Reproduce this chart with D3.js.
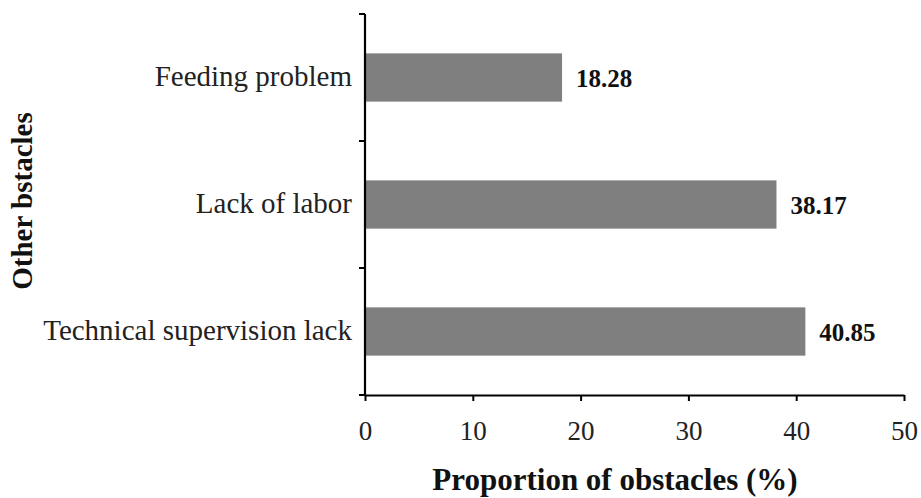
<!DOCTYPE html>
<html><head><meta charset="utf-8">
<script src="https://cdn.jsdelivr.net/npm/d3@7"></script>
<style>body{margin:0;background:#fff;} svg{display:block;}</style>
</head><body>
<script>
const categories = ["Feeding problem", "Lack of labor", "Technical supervision lack"];
const values = [18.28, 38.17, 40.85];
const xTicks = [0, 10, 20, 30, 40, 50];
const xTitle = "Proportion of obstacles (%)";
const yTitle = "Other bstacles";

const W = 921, H = 498;
const svg = d3.select("body").append("svg").attr("width", W).attr("height", H);
const font = "'Liberation Serif', 'Times New Roman', serif";

const x = d3.scaleLinear().domain([0, 50]).range([365, 904]);
const y = d3.scaleBand().domain(categories).range([14, 395]).paddingInner(0.62).paddingOuter(0.31);

// bars
svg.selectAll("rect.bar").data(categories).enter().append("rect")
  .attr("x", x(0)).attr("y", d => y(d))
  .attr("width", (d, i) => x(values[i]) - x(0))
  .attr("height", y.bandwidth())
  .attr("fill", "#7f7f7f");

// value labels
svg.selectAll("text.val").data(categories).enter().append("text")
  .attr("x", (d, i) => x(values[i]) + 14)
  .attr("y", d => y(d) + y.bandwidth() / 2 + 9)
  .attr("font-family", font).attr("font-weight", "bold").attr("font-size", 25)
  .attr("fill", "#111")
  .text((d, i) => values[i].toFixed(2));

// y axis line with ticks at band boundaries
const bounds = [0, 1, 2, 3].map(k => 14 + k * (381 / 3));
svg.append("line").attr("x1", x(0)).attr("x2", x(0)).attr("y1", 14).attr("y2", 395)
  .attr("stroke", "#000").attr("stroke-width", 2.2);
svg.selectAll("line.yt").data(bounds).enter().append("line")
  .attr("x1", x(0) - 6).attr("x2", x(0)).attr("y1", d => d).attr("y2", d => d)
  .attr("stroke", "#000").attr("stroke-width", 2);

// category labels
svg.selectAll("text.cat").data(categories).enter().append("text")
  .attr("x", 352).attr("y", d => y(d) + y.bandwidth() / 2 + 8)
  .attr("text-anchor", "end")
  .attr("font-family", font).attr("font-size", 29).attr("fill", "#222")
  .text(d => d);

// x axis
const xAxis = d3.axisBottom(x).tickValues(xTicks).tickSize(6).tickSizeOuter(0).tickPadding(20);
const gx = svg.append("g").attr("transform", `translate(0,395)`).call(xAxis);
gx.select(".domain").attr("stroke", "#000").attr("stroke-width", 2.2);
gx.selectAll(".tick line").attr("stroke", "#000").attr("stroke-width", 2);
gx.selectAll(".tick text").attr("font-family", font).attr("font-size", 27).attr("fill", "#222");

// titles
svg.append("text").attr("x", 615).attr("y", 490).attr("text-anchor", "middle")
  .attr("font-family", font).attr("font-weight", "bold").attr("font-size", 31).attr("fill", "#111")
  .text(xTitle);
svg.append("text").attr("transform", "translate(32,201) rotate(-90)").attr("text-anchor", "middle")
  .attr("font-family", font).attr("font-weight", "bold").attr("font-size", 29).attr("fill", "#111")
  .text(yTitle);
</script>
</body></html>
